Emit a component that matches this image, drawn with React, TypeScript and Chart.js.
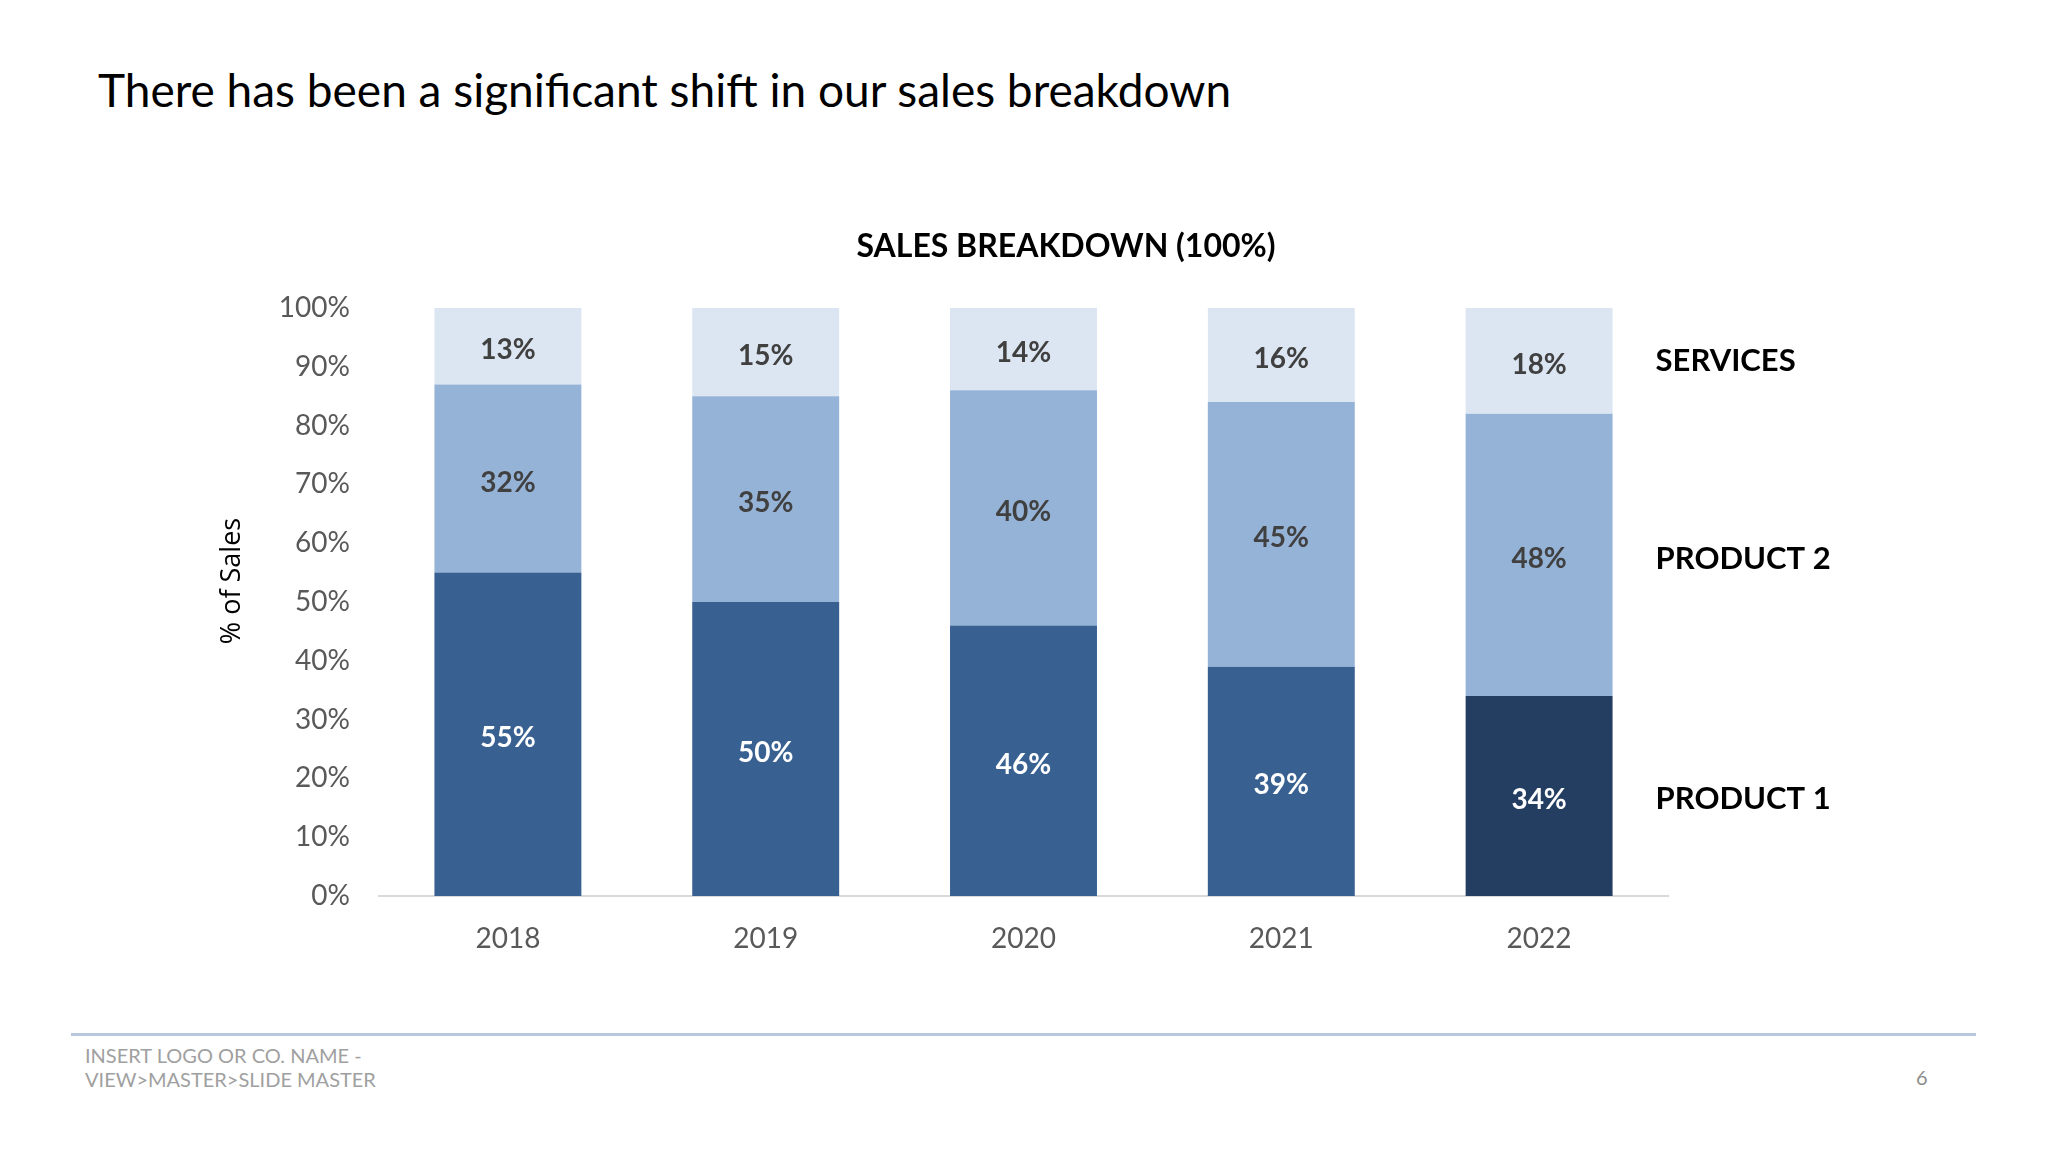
import React, { useEffect, useRef } from "react";
import { Chart, registerables } from "chart.js";

Chart.register(...registerables);

// ---- data ----
const YEARS = ["2018", "2019", "2020", "2021", "2022"];
const PRODUCT_1 = [55, 50, 46, 39, 34];
const PRODUCT_2 = [32, 35, 40, 45, 48];
const SERVICES = [13, 15, 14, 16, 18];
const SERIES_NAMES = ["PRODUCT 1", "PRODUCT 2", "SERVICES"];
const Y_TICKS_MAX = 100;
const Y_TICKS_STEP = 10;

const SLIDE_TITLE = "There has been a significant shift in our sales breakdown";
const CHART_TITLE = "SALES BREAKDOWN (100%)";
const Y_TITLE = "% of Sales";
const FOOTER_LINES = ["INSERT LOGO OR CO. NAME -", "VIEW>MASTER>SLIDE MASTER"];
const PAGE_NUMBER = "6";

// ---- styles ----
const P1_COLORS = ["#386091", "#386091", "#386091", "#386091", "#243e62"];
const P2_COLOR = "#95b3d7";
const SV_COLOR = "#dce6f2";
const VALUE_LABEL_COLORS = ["#ffffff", "#404040", "#404040"];
const SERIES_LABEL_NUDGE = [3, 4, 0];

const chartTexts = {
  id: "chartTexts",
  afterDatasetsDraw(chart: any) {
    const ctx = chart.ctx;
    chart.data.datasets.forEach((ds: any, di: number) => {
      const meta = chart.getDatasetMeta(di);
      meta.data.forEach((bar: any, i: number) => {
        const p = bar.getProps(["x", "y", "base"], true);
        ctx.save();
        ctx.font = "bold 28px Lato";
        ctx.fillStyle = VALUE_LABEL_COLORS[di];
        ctx.textAlign = "center";
        ctx.textBaseline = "middle";
        ctx.fillText(ds.data[i] + "%", p.x, (p.y + p.base) / 2 + 4);
        ctx.restore();
      });
      const last = meta.data[meta.data.length - 1];
      if (last) {
        const p = last.getProps(["x", "y", "base", "width"], true);
        ctx.save();
        ctx.font = "bold 31px Lato";
        ctx.fillStyle = "#000000";
        ctx.textAlign = "left";
        ctx.textBaseline = "middle";
        ctx.fillText(ds.label, p.x + p.width / 2 + 43, (p.y + p.base) / 2 + SERIES_LABEL_NUDGE[di]);
        ctx.restore();
      }
    });
  },
  afterDraw(chart: any) {
    const ctx = chart.ctx;
    const area = chart.chartArea;
    ctx.save();
    ctx.font = "bold 32px Lato";
    ctx.fillStyle = "#000000";
    ctx.textAlign = "center";
    ctx.textBaseline = "middle";
    ctx.fillText(CHART_TITLE, chart.width / 2, area.top - 61);
    ctx.restore();

    ctx.save();
    ctx.font = "27px 'Open Sans'";
    ctx.fillStyle = "#000000";
    ctx.textAlign = "center";
    ctx.textBaseline = "middle";
    ctx.translate(82, (area.top + area.bottom) / 2 - 21);
    ctx.rotate(-Math.PI / 2);
    ctx.fillText(Y_TITLE, 0, 0);
    ctx.restore();
  },
};

function SalesChart() {
  const ref = useRef<HTMLCanvasElement | null>(null);
  useEffect(() => {
    let chart: Chart | null = null;
    let cancelled = false;
    const build = () => {
      if (cancelled || !ref.current) return;
      chart = new Chart(ref.current, {
        type: "bar",
        data: {
          labels: YEARS,
          datasets: [
            { label: SERIES_NAMES[0], data: PRODUCT_1, backgroundColor: P1_COLORS, borderWidth: 0 },
            { label: SERIES_NAMES[1], data: PRODUCT_2, backgroundColor: P2_COLOR, borderWidth: 0 },
            { label: SERIES_NAMES[2], data: SERVICES, backgroundColor: SV_COLOR, borderWidth: 0 },
          ],
        },
        options: {
          animation: false,
          responsive: false,
          devicePixelRatio: 1,
          layout: { padding: { left: 0, right: 314, top: 118, bottom: 0 } },
          datasets: { bar: { categoryPercentage: 1, barPercentage: 0.57 } },
          plugins: {
            legend: { display: false },
            tooltip: { enabled: false },
            title: { display: false },
          },
          scales: {
            x: {
              stacked: true,
              grid: { display: false },
              border: { display: true, color: "#d9d9d9", width: 2 },
              ticks: { color: "#595959", font: { family: "Lato", size: 28 }, padding: 18 },
              afterFit: (s: any) => {
                s.height = 94;
              },
            },
            y: {
              stacked: true,
              min: 0,
              max: Y_TICKS_MAX,
              grid: { display: false },
              border: { display: false },
              ticks: {
                stepSize: Y_TICKS_STEP,
                color: "#595959",
                font: { family: "Lato", size: 28 },
                padding: 21,
                callback: (v: any) => v + "%",
              },
              afterFit: (s: any) => {
                s.width = 229;
              },
            },
          },
        },
        plugins: [chartTexts],
      });
    };
    const fonts = (document as any).fonts;
    if (fonts && fonts.load) {
      Promise.all([
        fonts.load("bold 32px Lato"),
        fonts.load("28px Lato"),
        fonts.load("27px 'Open Sans'"),
      ])
        .catch(() => null)
        .then(build);
    } else {
      build();
    }
    return () => {
      cancelled = true;
      if (chart) chart.destroy();
    };
  }, []);
  return (
    <canvas
      ref={ref}
      width={1832}
      height={800}
      style={{ position: "absolute", left: 150, top: 190, width: 1832, height: 800 }}
    />
  );
}

export default function App() {
  return (
    <div
      style={{
        position: "absolute",
        left: 0,
        top: 0,
        width: 2048,
        height: 1152,
        background: "#ffffff",
        overflow: "hidden",
        fontFamily: "Lato, sans-serif",
      }}
    >
      <div
        style={{
          position: "absolute",
          left: 98,
          top: 62,
          fontSize: 46,
          lineHeight: 1.2,
          color: "#000000",
          whiteSpace: "nowrap",
        }}
      >
        {SLIDE_TITLE}
      </div>
      <SalesChart />
      <div
        style={{
          position: "absolute",
          left: 71,
          top: 1033,
          width: 1905,
          height: 3,
          background: "#b8c7db",
        }}
      />
      <div
        style={{
          position: "absolute",
          left: 85,
          top: 1043,
          fontSize: 20,
          lineHeight: "24px",
          color: "#a0a0a0",
          whiteSpace: "nowrap",
        }}
      >
        {FOOTER_LINES.map((l) => (
          <div key={l}>{l}</div>
        ))}
      </div>
      <div
        style={{
          position: "absolute",
          left: 1916,
          top: 1065,
          fontSize: 20,
          lineHeight: "24px",
          color: "#8c8c8c",
        }}
      >
        {PAGE_NUMBER}
      </div>
    </div>
  );
}
